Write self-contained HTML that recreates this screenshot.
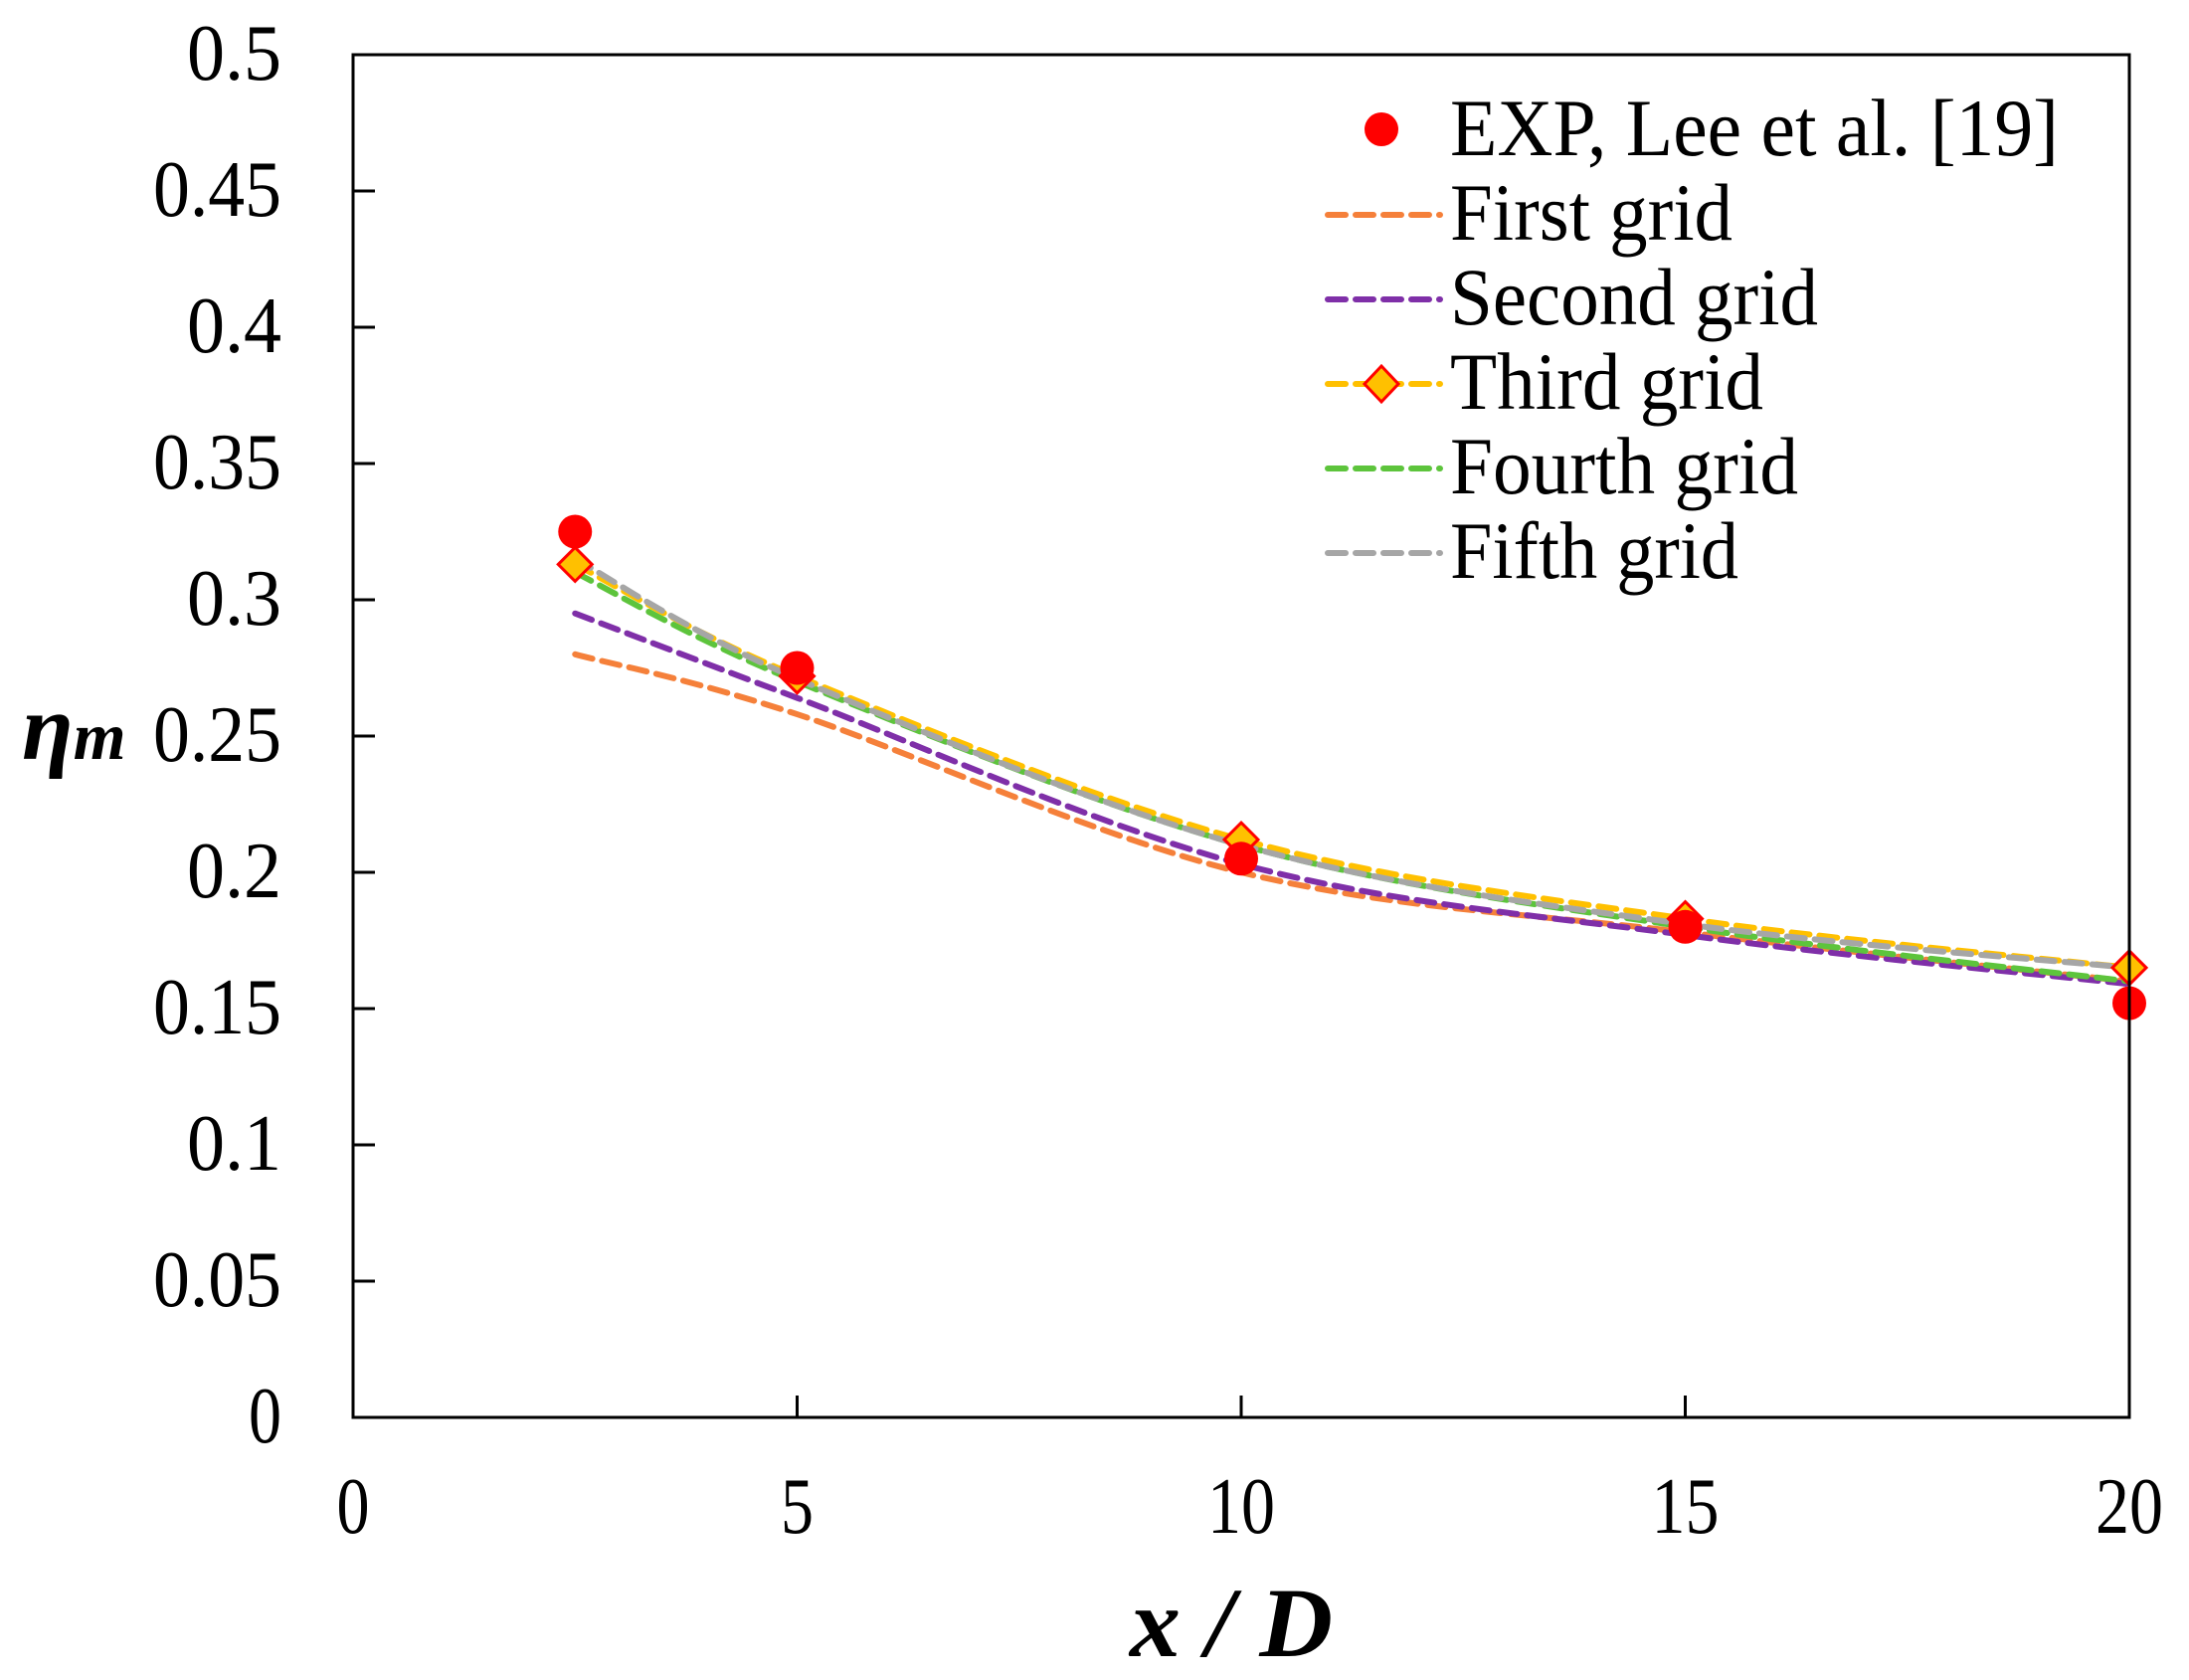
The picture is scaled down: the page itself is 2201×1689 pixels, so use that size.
<!DOCTYPE html>
<html><head><meta charset="utf-8"><style>
html,body{margin:0;padding:0;background:#fff;}
svg{display:block;}
text{font-family:"Liberation Serif",serif;fill:#000;}
</style></head><body>
<svg id="s" width="2201" height="1689" viewBox="0 0 2201 1689" xmlns="http://www.w3.org/2000/svg">
<rect width="2201" height="1689" fill="#fff"/>
<g id="curves"></g>
<rect x="355" y="55" width="1786" height="1370" fill="none" stroke="#000" stroke-width="3"/>
<g stroke="#000" stroke-width="3">
<line x1="355" x2="377" y1="192" y2="192"/><line x1="355" x2="377" y1="329" y2="329"/>
<line x1="355" x2="377" y1="466" y2="466"/><line x1="355" x2="377" y1="603" y2="603"/>
<line x1="355" x2="377" y1="740" y2="740"/><line x1="355" x2="377" y1="877" y2="877"/>
<line x1="355" x2="377" y1="1014" y2="1014"/><line x1="355" x2="377" y1="1151" y2="1151"/>
<line x1="355" x2="377" y1="1288" y2="1288"/>
<line x1="801.5" x2="801.5" y1="1425" y2="1403"/><line x1="1248" x2="1248" y1="1425" y2="1403"/>
<line x1="1694.5" x2="1694.5" y1="1425" y2="1403"/>
</g>
<g font-size="80" text-anchor="end">
<text x="283" y="80" textLength="95" lengthAdjust="spacingAndGlyphs">0.5</text>
<text x="283" y="217" textLength="129" lengthAdjust="spacingAndGlyphs">0.45</text>
<text x="283" y="354" textLength="95" lengthAdjust="spacingAndGlyphs">0.4</text>
<text x="283" y="491" textLength="129" lengthAdjust="spacingAndGlyphs">0.35</text>
<text x="283" y="628" textLength="95" lengthAdjust="spacingAndGlyphs">0.3</text>
<text x="283" y="765" textLength="129" lengthAdjust="spacingAndGlyphs">0.25</text>
<text x="283" y="902" textLength="95" lengthAdjust="spacingAndGlyphs">0.2</text>
<text x="283" y="1039" textLength="129" lengthAdjust="spacingAndGlyphs">0.15</text>
<text x="283" y="1176" textLength="95" lengthAdjust="spacingAndGlyphs">0.1</text>
<text x="283" y="1313" textLength="129" lengthAdjust="spacingAndGlyphs">0.05</text>
<text x="283" y="1450" textLength="33" lengthAdjust="spacingAndGlyphs">0</text>
</g>
<g font-size="80" text-anchor="middle">
<text x="355" y="1541" textLength="33" lengthAdjust="spacingAndGlyphs">0</text>
<text x="801.5" y="1541" textLength="33" lengthAdjust="spacingAndGlyphs">5</text>
<text x="1248" y="1541" textLength="68" lengthAdjust="spacingAndGlyphs">10</text>
<text x="1694.5" y="1541" textLength="68" lengthAdjust="spacingAndGlyphs">15</text>
<text x="2141" y="1541" textLength="68" lengthAdjust="spacingAndGlyphs">20</text>
</g>
<text x="1136" y="1665" font-size="100" font-weight="bold" font-style="italic" textLength="204" lengthAdjust="spacingAndGlyphs">x / D</text>
<text x="22" y="763" font-size="94" font-weight="bold" font-style="italic">η<tspan font-size="68">m</tspan></text>
<g id="legend">
<g font-size="82">
<text x="1458" y="156" textLength="612" lengthAdjust="spacingAndGlyphs">EXP, Lee et al. [19]</text>
<text x="1458" y="241" textLength="284" lengthAdjust="spacingAndGlyphs">First grid</text>
<text x="1458" y="326" textLength="370" lengthAdjust="spacingAndGlyphs">Second grid</text>
<text x="1458" y="411" textLength="315" lengthAdjust="spacingAndGlyphs">Third grid</text>
<text x="1458" y="496" textLength="350" lengthAdjust="spacingAndGlyphs">Fourth grid</text>
<text x="1458" y="581" textLength="290" lengthAdjust="spacingAndGlyphs">Fifth grid</text>
</g>
<circle cx="1389" cy="130" r="17" fill="#ff0000"/>
<g stroke-width="6" stroke-dasharray="18 10" stroke-linecap="round">
<line x1="1335" x2="1448" y1="216" y2="216" stroke="#f5803a"/>
<line x1="1335" x2="1448" y1="301" y2="301" stroke="#7f2fa8"/>
<line x1="1335" x2="1448" y1="386" y2="386" stroke="#ffc000"/>
<line x1="1335" x2="1448" y1="471" y2="471" stroke="#5dc43c"/>
<line x1="1335" x2="1448" y1="556" y2="556" stroke="#a6a6a6"/>
</g>
<polygon points="1389,368 1406,386 1389,404 1372,386" fill="#ffc000" stroke="#ff0000" stroke-width="3"/>
</g>
</svg>
<script>
(function(){
var X=function(v){return 355+v*89.3;}, Y=function(v){return 1425-v*2740;};
var xs=[2.5,5,10,15,20];
var series=[
 {c:"#f5803a",d:[0.280,0.258,0.200,0.178,0.160]},
 {c:"#7f2fa8",d:[0.295,0.264,0.203,0.177,0.159]},
 {c:"#5dc43c",d:[0.310,0.270,0.210,0.180,0.160]},
 {c:"#ffc000",d:[0.313,0.272,0.212,0.183,0.165]},
 {c:"#a6a6a6",d:[0.315,0.271,0.210,0.181,0.165]}
];
var g=document.getElementById("curves"),NS="http://www.w3.org/2000/svg";
function path(pts){
 var d="M"+pts[0][0]+","+pts[0][1];
 for(var i=0;i<pts.length-1;i++){
  var p0=pts[i-1]||pts[i],p1=pts[i],p2=pts[i+1],p3=pts[i+2]||p2;
  var c1=[p1[0]+(p2[0]-p0[0])/6,p1[1]+(p2[1]-p0[1])/6];
  var c2=[p2[0]-(p3[0]-p1[0])/6,p2[1]-(p3[1]-p1[1])/6];
  d+=" C"+c1[0]+","+c1[1]+" "+c2[0]+","+c2[1]+" "+p2[0]+","+p2[1];
 }
 return d;
}
series.forEach(function(s){
 var pts=xs.map(function(x,i){return [X(x),Y(s.d[i])];});
 var p=document.createElementNS(NS,"path");
 p.setAttribute("d",path(pts));p.setAttribute("fill","none");
 p.setAttribute("stroke",s.c);p.setAttribute("stroke-width","6");
 p.setAttribute("stroke-dasharray","18 10");p.setAttribute("stroke-linecap","round");
 g.appendChild(p);
});
var third=series[3].d;
var exp=[0.325,0.275,0.205,0.180,0.152];
xs.forEach(function(x,i){
 var cx=X(x),cy=Y(third[i]);
 var q=document.createElementNS(NS,"polygon");
 q.setAttribute("points",cx+","+(cy-17)+" "+(cx+17)+","+cy+" "+cx+","+(cy+17)+" "+(cx-17)+","+cy);
 q.setAttribute("fill","#ffc000");q.setAttribute("stroke","#ff0000");q.setAttribute("stroke-width","3");
 g.appendChild(q);
});
xs.forEach(function(x,i){
 var c=document.createElementNS(NS,"circle");
 c.setAttribute("cx",X(x));c.setAttribute("cy",Y(exp[i]));c.setAttribute("r","17");c.setAttribute("fill","#ff0000");
 g.appendChild(c);
});
})();
</script>
</body></html>
